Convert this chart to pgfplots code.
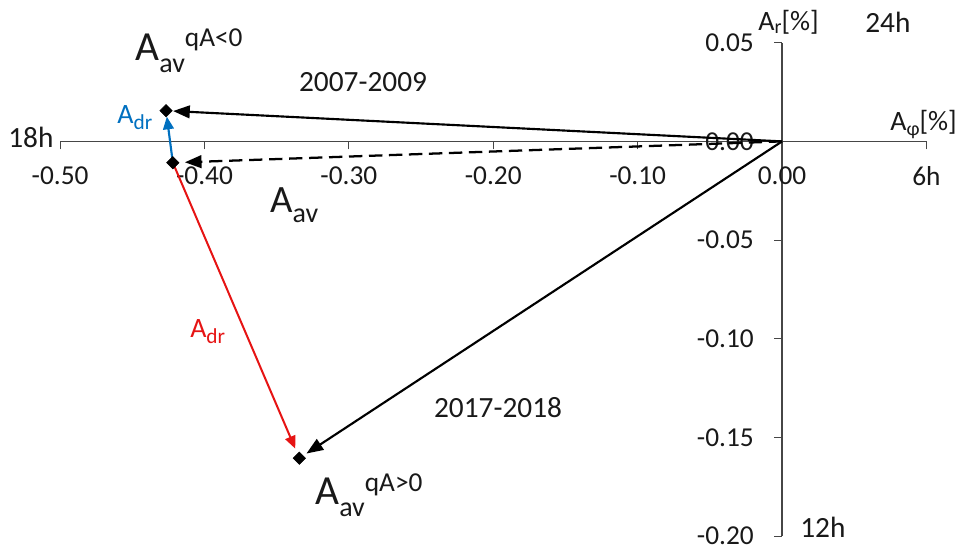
\documentclass[border=0pt]{standalone}
\usepackage{fontspec}
\setmainfont{Carlito}
\usepackage{pgfplots}
\pgfplotsset{compat=1.18}
\usetikzlibrary{arrows.meta}

\definecolor{drblue}{RGB}{0,112,192}
\definecolor{drred}{RGB}{230,20,20}
\definecolor{axisgray}{RGB}{70,70,70}
\definecolor{txt}{RGB}{25,25,25}

% A with a lowered subscript followed by a raised superscript
\newcommand{\Aav}[1]{{\fontsize{31}{31}\selectfont A}%
  \raisebox{-9pt}{\fontsize{21}{21}\selectfont av}%
  \raisebox{9.8pt}{\fontsize{20.5}{20.5}\selectfont #1}}

\tikzset{
  bigarrow/.style={-{Triangle[length=12.5pt,width=9.5pt]}},
  smallarrow/.style={-{Triangle[length=9.5pt,width=8pt]}},
}

\begin{document}
\begin{tikzpicture}
\begin{axis}[
  set layers,
  scale only axis,
  width=649.8pt, height=370.1pt,
  xmin=-0.5, xmax=0.1,
  ymin=-0.2, ymax=0.05,
  axis lines=middle,
  axis line style={-, axisgray, line width=1pt},
  hide obscured x ticks=false,
  hide obscured y ticks=false,
  clip=false,
  xtick={-0.5,-0.4,-0.3,-0.2,-0.1,0,0.1},
  xticklabels={-0.50,-0.40,-0.30,-0.20,-0.10,0.00,6h},
  ytick={-0.2,-0.15,-0.1,-0.05,0,0.05},
  yticklabels={-0.20,-0.15,-0.10,-0.05,0.00,0.05},
  tick align=outside,
  major tick length=6pt,
  tick style={axisgray, line width=0.8pt},
  xticklabel style={font=\fontsize{20.5}{20.5}\selectfont, text=txt, inner sep=0pt, anchor=north, yshift=-13pt},
  yticklabel style={font=\fontsize{20.5}{20.5}\selectfont, text=txt, inner sep=0pt, anchor=east, xshift=-15pt},
]

% vectors from the origin
\addplot[black, line width=1.6pt, bigarrow, shorten >=5.3pt]
  coordinates {(0,0) (-0.4266,0.01555)};
\addplot[black, line width=1.7pt, dash pattern=on 10pt off 5pt, bigarrow, shorten >=9pt]
  coordinates {(0,0) (-0.4219,-0.0108)};
\addplot[black, line width=1.6pt, bigarrow, shorten >=6.4pt]
  coordinates {(0,0) (-0.3343,-0.1605)};

% drift contributions
\addplot[drblue, line width=1.6pt, smallarrow, shorten >=4.5pt]
  coordinates {(-0.4219,-0.0108) (-0.4266,0.01555)};
\addplot[drred, line width=1.5pt, smallarrow, shorten >=7.8pt]
  coordinates {(-0.4219,-0.0108) (-0.3343,-0.1605)};

% amplitude points
\addplot[only marks, mark=square*, mark size=3.3pt, mark options={rotate=45, black}]
  coordinates {(-0.4266,0.01555) (-0.4219,-0.0108) (-0.3343,-0.1605)};

% labels
\node[anchor=base west, inner sep=0pt, text=txt] at (axis cs:-0.448,0.0412) {\Aav{qA<0}};
\node[anchor=base west, inner sep=0pt, text=txt] at (axis cs:-0.3234,-0.1842) {\Aav{qA>0}};
\node[anchor=base west, inner sep=0pt, text=txt] at (axis cs:-0.3546,-0.0362)
  {{\fontsize{29}{29}\selectfont A}\raisebox{-7pt}{\fontsize{21}{21}\selectfont av}};
\node[anchor=base west, inner sep=0pt, text=drblue] at (axis cs:-0.4605,0.00922)
  {{\fontsize{21}{21}\selectfont A}\raisebox{-5pt}{\fontsize{16}{16}\selectfont dr}};
\node[anchor=base west, inner sep=0pt, text=drred] at (axis cs:-0.41,-0.0991)
  {{\fontsize{21}{21}\selectfont A}\raisebox{-5pt}{\fontsize{16}{16}\selectfont dr}};
\node[inner sep=0pt, text=txt, font=\fontsize{22}{22}\selectfont] at (axis cs:-0.2902,0.0301) {2007-2009};
\node[inner sep=0pt, text=txt, font=\fontsize{22}{22}\selectfont] at (axis cs:-0.1967,-0.1350) {2017-2018};
\node[anchor=base west, inner sep=0pt, text=txt, font=\fontsize{22}{22}\selectfont] at (axis cs:-0.536,-0.0029) {18h};
\node[anchor=base west, inner sep=0pt, text=txt, font=\fontsize{22}{22}\selectfont] at (axis cs:0.0575,0.0554) {24h};
\node[anchor=base west, inner sep=0pt, text=txt, font=\fontsize{22}{22}\selectfont] at (axis cs:0.01247,-0.2009) {12h};
\node[anchor=base west, inner sep=0pt, text=txt] at (axis cs:-0.0166,0.0564)
  {{\fontsize{21}{21}\selectfont A}\raisebox{-2.5pt}{\fontsize{15}{15}\selectfont r}{\fontsize{21}{21}\selectfont[\%]}};
\node[anchor=base west, inner sep=0pt, text=txt] at (axis cs:0.0748,0.0057)
  {{\fontsize{21}{21}\selectfont A}\raisebox{-4pt}{\fontsize{15}{15}\selectfont φ}{\fontsize{21}{21}\selectfont[\%]}};

\coordinate (bbsw) at (axis cs:-0.5416,-0.2080);
\coordinate (bbne) at (axis cs:0.1253,0.07163);
\end{axis}
\pgfresetboundingbox
\useasboundingbox (bbsw) rectangle (bbne);
\end{tikzpicture}
\end{document}
